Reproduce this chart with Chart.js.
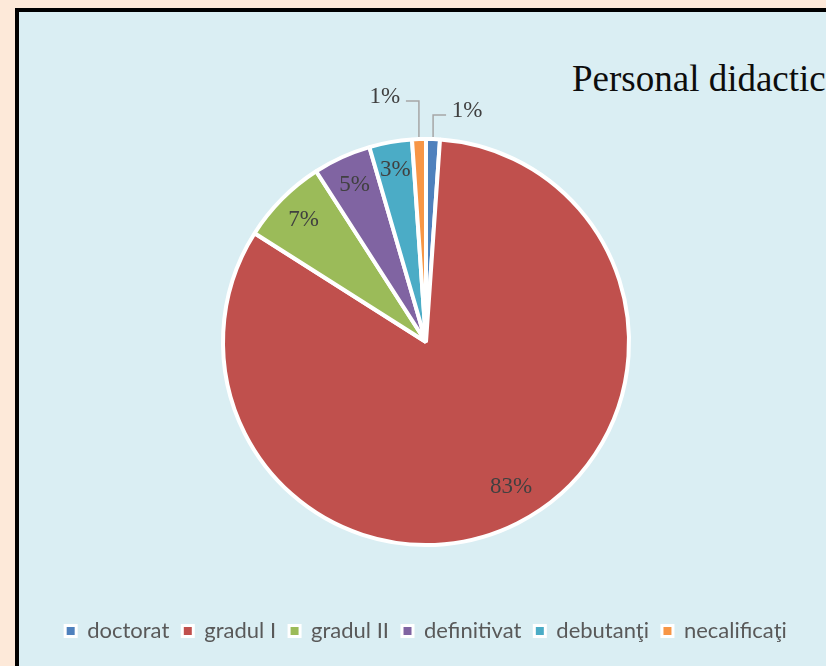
<!DOCTYPE html>
<html>
<head>
<meta charset="utf-8">
<script src="https://cdn.jsdelivr.net/npm/chart.js@4.4.1/dist/chart.umd.min.js"></script>
<style>
  html, body { margin: 0; padding: 0; width: 826px; height: 666px; overflow: hidden; background: #fde9d9; }
  #frame { position: absolute; left: 15px; top: 8px; width: 840px; height: 680px;
           border-left: 4px solid #000; border-top: 4px solid #000; background: #daeef3; }
  #chart-wrap { position: absolute; left: 0; top: 0; width: 822px; height: 654px; }
  #title { position: absolute; left: 553px; top: 48px; white-space: nowrap; color: #0d0d0d;
           font: 37px/37px "Liberation Serif", "Times New Roman", serif; }
</style>
</head>
<body>
<div id="frame">
  <div id="title">Personal didactic</div>
  <div id="chart-wrap"><canvas id="chart"></canvas></div>
</div>
<script>
const categories = ["doctorat", "gradul I", "gradul II", "definitivat", "debutanţi", "necalificaţi"];
const shares = [1.1, 82.9, 6.9, 4.6, 3.4, 1.1];
const colors = ["#4f81bd", "#c0504d", "#9bbb59", "#8064a2", "#4bacc6", "#f79646"];

(() => {
  "use strict";

  // label placement: inside labels sit near the bisector, tiny slices get a leader line
  const labelRadius = [0, 0.83, 0.85, 0.85, 0.86, 0];
  const labelTurn = [0, -3.5, 0, 0, 0, 0]; // degrees
  const leaderRise = [22, 0, 0, 0, 0, 36];

  const pieLabels = {
    id: "pieLabels",
    afterDatasetsDraw(chart) {
      const { ctx } = chart;
      const meta = chart.getDatasetMeta(0);
      const total = shares.reduce((s, v) => s + v, 0);
      ctx.save();
      ctx.font = '23px "Liberation Serif", "Times New Roman", serif';
      ctx.textAlign = "center";
      ctx.textBaseline = "middle";
      meta.data.forEach((arc, i) => {
        const { x, y, startAngle, endAngle, outerRadius } =
          arc.getProps(["x", "y", "startAngle", "endAngle", "outerRadius"], true);
        const mid = (startAngle + endAngle) / 2;
        const text = Math.round((shares[i] / total) * 100) + "%";
        ctx.fillStyle = "#404040";
        if (!leaderRise[i]) {
          const r = outerRadius * labelRadius[i];
          const a = mid + (labelTurn[i] * Math.PI) / 180;
          ctx.fillText(text, x + Math.cos(a) * r, y + Math.sin(a) * r);
          return;
        }
        const ex = x + Math.cos(mid) * (outerRadius + 2);
        const ey = y + Math.sin(mid) * (outerRadius + 2);
        const side = Math.cos(mid) < 0 ? -1 : 1;
        const ty = ey - leaderRise[i];
        ctx.strokeStyle = "#a6a6a6";
        ctx.lineWidth = 1.5;
        ctx.beginPath();
        ctx.moveTo(ex, ey);
        ctx.lineTo(ex, ty);
        ctx.lineTo(ex + side * 13, ty);
        ctx.stroke();
        ctx.fillText(text, ex + side * 34, ty - 4);
      });
      ctx.restore();
    },
  };

  const legendDefaults = Chart.overrides.pie.plugins.legend.labels.generateLabels;

  new Chart(document.getElementById("chart"), {
    type: "pie",
    data: {
      labels: categories,
      datasets: [{
        data: shares,
        backgroundColor: colors,
        borderColor: "#ffffff",
        borderWidth: 4,
        radius: 203,
      }],
    },
    options: {
      responsive: true,
      maintainAspectRatio: false,
      animation: false,
      events: [],
      layout: { padding: { top: 65, bottom: 14, right: 8 } },
      plugins: {
        title: { display: false },
        tooltip: { enabled: false },
        legend: {
          position: "bottom",
          labels: {
            boxWidth: 11,
            boxHeight: 11,
            padding: 13,
            color: "#595959",
            font: { family: "Lato, 'Open Sans', sans-serif", size: 22 },
            generateLabels: (chart) =>
              legendDefaults(chart).map((item) => ({ ...item, lineWidth: 3 })),
          },
        },
      },
    },
    plugins: [pieLabels],
  });
})();
</script>
</body>
</html>
